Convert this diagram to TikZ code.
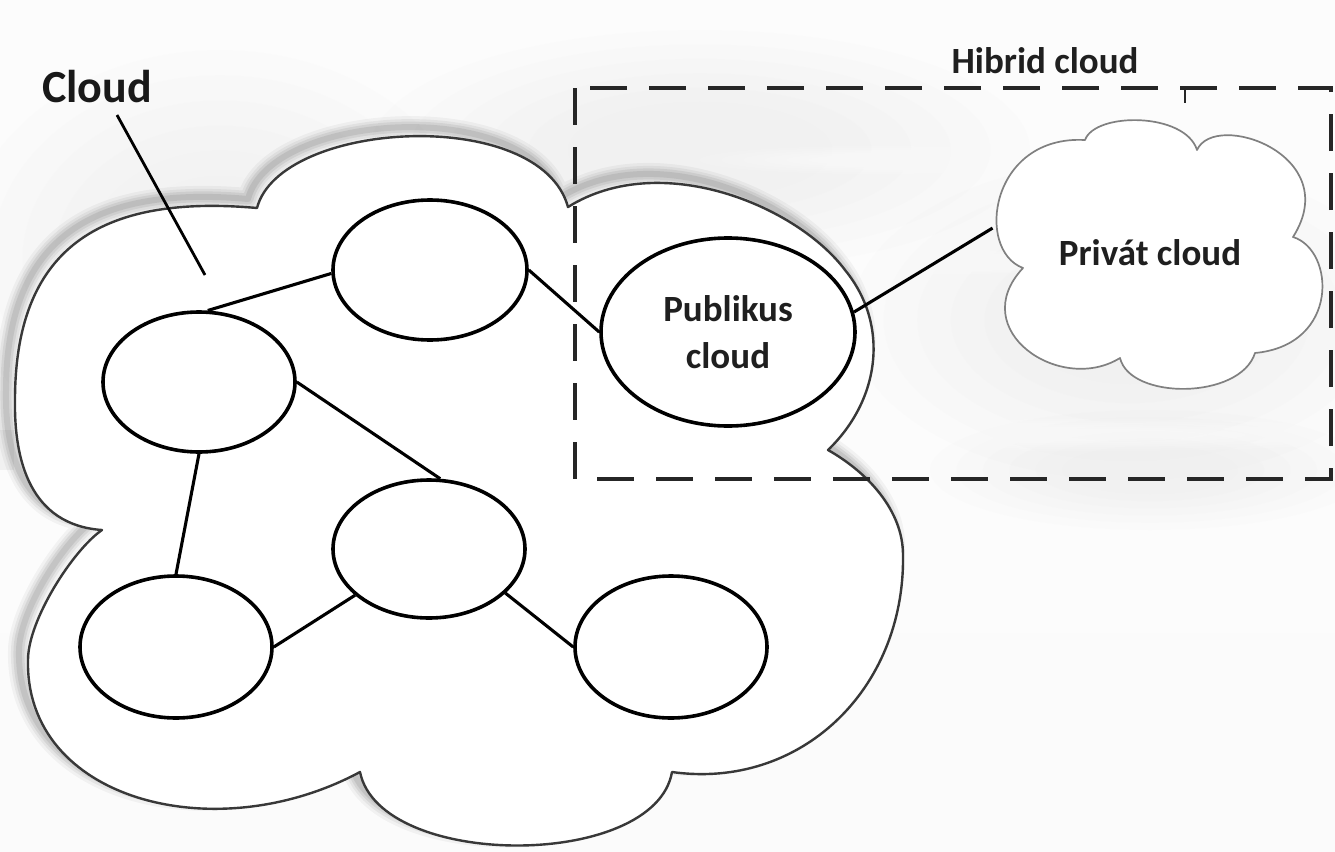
\documentclass[tikz,border=0pt]{standalone}
\usepackage{fontspec}
\setmainfont{Carlito}
\usetikzlibrary{shapes.geometric}

% outline of the large cloud (pixel-like units, y grows downwards)
\newcommand\bigcloudoutline{(257,208) .. controls (280,120) and (540,105) .. (568,207)
  .. controls (661,149) and (797,206) .. (845,270)
  .. controls (890,325) and (880,400) .. (828,450)
  .. controls (867,472) and (903,510) .. (903,555)
  .. controls (905,690) and (800,790) .. (672,772)
  .. controls (655,870) and (380,870) .. (360,772)
  .. controls (215,850) and (25,800) .. (28,660)
  .. controls (28,620) and (73,550) .. (102,530)
  .. controls (30,525) and (14,460) .. (15,400)
  .. controls (15,240) and (110,195) .. (257,208) -- cycle}

% outline of the small private cloud
\newcommand\privcloudoutline{(1023,268) .. controls (975,250) and (990,135) .. (1085,140)
  .. controls (1095,112) and (1185,112) .. (1197,150)
  .. controls (1215,110) and (1345,155) .. (1293,237)
  .. controls (1335,250) and (1340,345) .. (1255,353)
  .. controls (1240,400) and (1130,400) .. (1120,358)
  .. controls (1060,395) and (965,330) .. (1023,268) -- cycle}

% soft-edged blob for the sky: x, y, x radius, y radius, colour, opacity per layer
\newcommand\softblob[6]{%
  \foreach \k in {0,...,5}{%
    \fill[#5, opacity=#6] (#1,#2) ellipse [x radius={#3*(1-0.12*\k)}, y radius={#4*(1-0.12*\k)}];}}

\begin{document}
\begin{tikzpicture}[x=1pt,y=-1pt,
  lbl/.style={font=\bfseries\fontsize{37}{47}\selectfont, text=black!88, align=center},
  biglbl/.style={font=\bfseries\fontsize{46}{52}\selectfont, text=black!90},
  netnode/.style={ellipse, draw=black, line width=3.6pt, fill=white, inner sep=0pt},
  link/.style={draw=black, line width=3.1pt},
  hybridbox/.style={draw=black!85, line width=3.8pt, dash pattern=on 37pt off 22pt},
  cloudedge/.style={draw=black!78, line width=2.4pt, line join=round, fill=white},
  privedge/.style={draw=black!50, line width=1.7pt, line join=round, fill=white}]

\useasboundingbox (0,0) rectangle (1335,851);

% sky background
\shade[top color=gray!2, middle color=gray!9, bottom color=gray!3] (0,0) rectangle (1335,851);
\softblob{700}{150}{330}{120}{gray!30}{0.04}
\softblob{220}{260}{260}{210}{gray!30}{0.035}
\softblob{1130}{320}{280}{160}{gray!30}{0.04}
\softblob{1150}{470}{220}{60}{gray!30}{0.04}
\softblob{1080}{435}{320}{16}{white}{0.12}
\softblob{960}{262}{150}{12}{white}{0.12}
\softblob{880}{160}{180}{14}{white}{0.12}
\softblob{1200}{530}{200}{22}{white}{0.1}
\fill[gray!16, opacity=.6] (0,430) rectangle (14,470);

% soft shadow round the large cloud, thrown up and to the left
\foreach \w/\o in {22/0.04,16/0.05,11/0.065,6/0.08} {
  \draw[line width=\w pt, black, opacity=\o, line join=round, xshift=-9pt, yshift=9pt] \bigcloudoutline;
}
\path[cloudedge] \bigcloudoutline;

% private cloud
\path[privedge] \privcloudoutline;

% hybrid cloud frame
\coordinate (hybNW) at (575,88);
\coordinate (hybSE) at (1331,479);
\draw[hybridbox] (hybNW) rectangle (hybSE);
\coordinate (tickT) at (1185,88);
\coordinate (tickB) at (1185,103);
\draw[black!85, line width=2.6pt] (tickT) -- (tickB);
\node[lbl] (hyb) at (1045,61) {Hibrid cloud};

% label of the large cloud
\node[biglbl] (cl) at (97,87) {Cloud};
\coordinate (ptrA) at (117,115);
\coordinate (ptrB) at (205,275);
\draw[black, line width=2.8pt] (ptrA) -- (ptrB);

% network nodes
\node[netnode, minimum width=194pt, minimum height=140pt] (T) at (430,270) {};
\node[netnode, minimum width=192pt, minimum height=140pt] (L) at (199,382) {};
\node[netnode, minimum width=192pt, minimum height=138pt] (C) at (429,549) {};
\node[netnode, minimum width=192pt, minimum height=142pt] (BL) at (176,647) {};
\node[netnode, minimum width=192pt, minimum height=142pt] (BR) at (671,647) {};
\node[netnode, lbl, minimum width=254pt, minimum height=188pt] (P) at (728,332) {Publikus\\cloud};
\node[ellipse, lbl, inner sep=0pt, minimum width=320pt, minimum height=270pt] (V) at (1150,253) {Privát cloud};

% links
\draw[link] (L.83) -- (T.182);
\draw[link] (T.east) -- (P.west);
\draw[link] (L.east) -- (C.81);
\draw[link] (L.south) -- (BL.north);
\draw[link] (BL.east) -- (C.212);
\draw[link] (C.-30) -- (BR.west);
\draw[link] (P.9) -- (V.171);
\end{tikzpicture}
\end{document}
